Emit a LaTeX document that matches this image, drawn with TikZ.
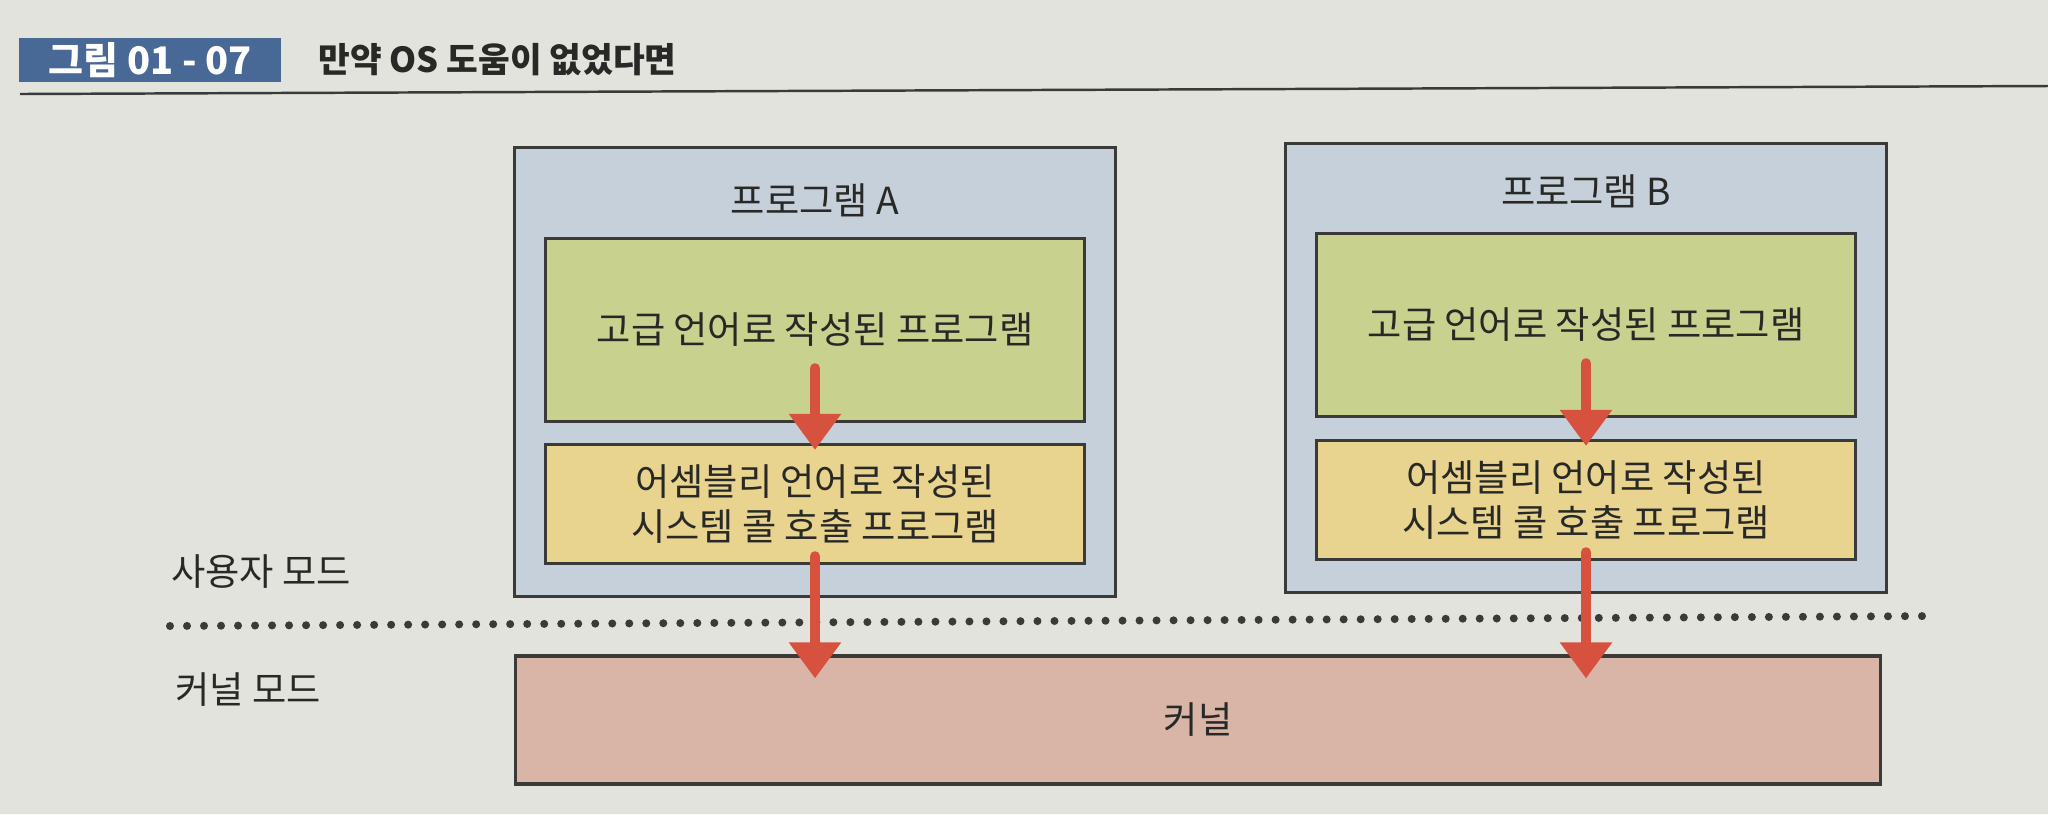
\documentclass[tikz,border=0pt]{standalone}
\usepackage{fontspec}
\newfontfamily\kr{Noto Sans CJK KR}
\usepackage{xcolor}
\usetikzlibrary{arrows.meta,positioning}

\definecolor{paper}{RGB}{226,227,221}
\definecolor{ink}{RGB}{40,40,38}
\definecolor{edge}{RGB}{58,58,56}
\definecolor{badgeblue}{RGB}{72,104,150}
\definecolor{progblue}{RGB}{197,208,218}
\definecolor{hlgreen}{RGB}{201,209,143}
\definecolor{asmyellow}{RGB}{232,212,142}
\definecolor{kernpink}{RGB}{217,181,168}
\definecolor{arrowred}{RGB}{214,82,62}

\begin{document}
\begin{tikzpicture}[
    x=0.01cm, y=-0.01cm,
    every node/.style={font=\kr\fontsize{10.6}{12.6}\selectfont, text=ink},
    prog/.style={draw=edge, fill=progblue, line width=0.9pt, minimum width=6.0cm, minimum height=4.49cm, inner sep=0pt},
    hlbox/.style={draw=edge, fill=hlgreen, line width=0.9pt, minimum width=5.38cm, minimum height=1.83cm, inner sep=0pt},
    asmbox/.style={draw=edge, fill=asmyellow, line width=0.9pt, minimum width=5.38cm, minimum height=1.19cm, inner sep=0pt, align=center},
    kernbox/.style={draw=edge, fill=kernpink, line width=0.9pt, minimum width=13.65cm, minimum height=1.28cm, inner sep=0pt},
    flow/.style={draw=arrowred, line width=2.8pt, line cap=round, -{Triangle[width=0.5cm, length=0.36cm]}},
    modeline/.style={draw=edge, line width=0.08cm, line cap=round, dash pattern=on 0pt off 0.17cm}
]
  \fill[paper] (0,0) rectangle (2048,814);
  \useasboundingbox (0,0) rectangle (2048,814);

  % heading
  \node[fill=badgeblue, minimum width=2.61cm, minimum height=0.43cm, inner sep=0pt,
        font=\kr\bfseries\fontsize{10.8}{12}\selectfont, text=white] (badge) at (150,60) {그림 01 - 07};
  \node[anchor=west, font=\kr\bfseries\fontsize{9.8}{12}\selectfont] (title) at (306,60) {만약 OS 도움이 없었다면};
  \coordinate (ruleL) at (20,94);
  \coordinate (ruleR) at (2048,86);
  \draw[edge, line width=0.7pt] (ruleL) -- (ruleR);

  % program A
  \node[prog] (progA) at (815,372) {};
  \node (nameA) at (815,200) {프로그램 A};
  \node[hlbox] (hlA) at (815,330) {고급 언어로 작성된 프로그램};
  \node[asmbox] (asmA) at (815,504) {어셈블리 언어로 작성된\\시스템 콜 호출 프로그램};

  % program B
  \node[prog] (progB) at (1586,368) {};
  \node (nameB) at (1586,191) {프로그램 B};
  \node[hlbox] (hlB) at (1586,325) {고급 언어로 작성된 프로그램};
  \node[asmbox] (asmB) at (1586,500) {어셈블리 언어로 작성된\\시스템 콜 호출 프로그램};

  % modes
  \node (user) at (261,572) {사용자 모드};
  \node (kmode) at (248,690) {커널 모드};
  \coordinate (sepL) at (170,626);
  \coordinate (sepR) at (1935,616);
  \draw[modeline] (sepL) -- (sepR);

  \node[kernbox] (kernel) at (1198,720) {커널};

  \draw[flow] ([yshift=0.55cm]hlA.south) -- ([yshift=-0.07cm]asmA.north);
  \draw[flow] ([yshift=0.09cm]asmA.south) -- ([yshift=-0.24cm]kernel.north -| asmA.south);
  \draw[flow] ([yshift=0.55cm]hlB.south) -- ([yshift=-0.07cm]asmB.north);
  \draw[flow] ([yshift=0.09cm]asmB.south) -- ([yshift=-0.24cm]kernel.north -| asmB.south);
\end{tikzpicture}
\end{document}
